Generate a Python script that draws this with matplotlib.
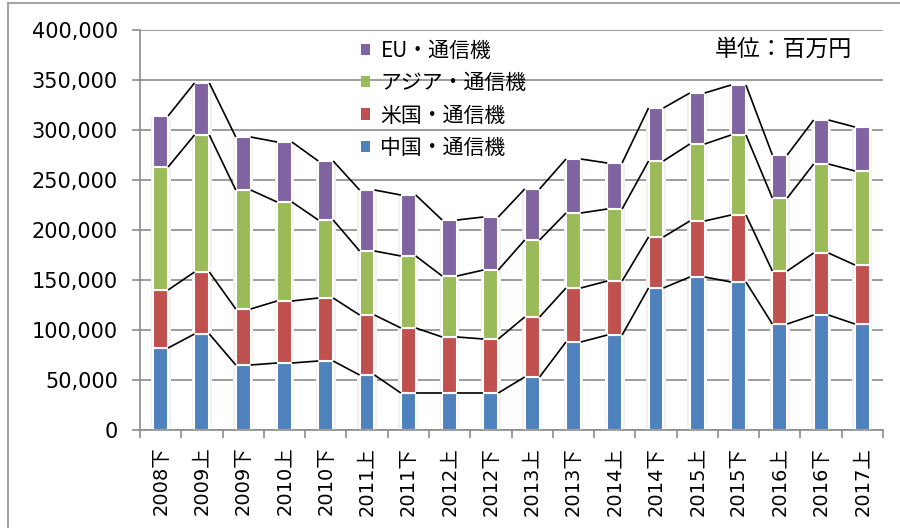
import numpy as np
import matplotlib
matplotlib.use('Agg')
from matplotlib import pyplot as plt
from matplotlib.lines import Line2D
from matplotlib.ticker import FuncFormatter, FixedLocator

plt.rcParams['font.family'] = ['DejaVu Sans', 'Noto Sans CJK JP']

# half-year periods
periods = ['2008下', '2009上', '2009下', '2010上', '2010下', '2011上', '2011下',
           '2012上', '2012下', '2013上', '2013下', '2014上', '2014下', '2015上',
           '2015下', '2016上', '2016下', '2017上']

# values in million yen
china = [82000, 96000, 65000, 67000, 69000, 55000, 37000, 37000, 37000,
         53000, 88000, 95000, 142000, 153000, 148000, 106000, 115000, 106000]
usa = [58000, 62000, 56000, 62000, 63000, 60000, 65000, 56000, 54000,
       60000, 54000, 54000, 51000, 56000, 67000, 53000, 62000, 59000]
asia = [123000, 137000, 119000, 99000, 78000, 64000, 72000, 61000, 69000,
        77000, 75000, 72000, 76000, 77000, 80000, 73000, 89000, 94000]
eu = [51000, 52000, 53000, 60000, 59000, 61000, 61000, 56000, 53000,
      51000, 54000, 46000, 53000, 51000, 50000, 43000, 44000, 44000]

series = [('中国・通信機', china, '#4F81BD'),
          ('米国・通信機', usa, '#C0504D'),
          ('アジア・通信機', asia, '#9BBB59'),
          ('EU・通信機', eu, '#8064A2')]

fig = plt.figure(figsize=(9, 5.28), dpi=100)
ax = fig.add_axes([140 / 900, 1 - 430 / 528, 743 / 900, 400 / 528])

x = np.arange(len(periods))
w = 0.36
grid_c = '#8c8c8c'
cjk = ['Noto Sans CJK JP', 'DejaVu Sans']

# soft shadow behind bars
total = np.sum([s[1] for s in series], axis=0)
ax.bar(x, total, width=w + 0.12, color='#f1f1f1', zorder=1.5, linewidth=0)

bottom = np.zeros(len(periods))
handles = {}
tops = []
for name, vals, col in series:
    vals = np.array(vals, dtype=float)
    b = ax.bar(x, vals, width=w, bottom=bottom, color=col,
               edgecolor='white', linewidth=1.5, zorder=2, label=name)
    handles[name] = b
    bottom = bottom + vals
    tops.append(bottom.copy())

# series lines between stacked tops
for top in tops:
    for i in range(len(periods) - 1):
        ax.plot([x[i] + w / 2, x[i + 1] - w / 2], [top[i], top[i + 1]],
                color='black', linewidth=1.2, zorder=3, solid_capstyle='butt')

ax.set_xlim(-0.5, len(periods) - 0.5)
ax.set_ylim(0, 400000)
ax.set_yticks(np.arange(0, 400001, 50000))
ax.yaxis.set_major_formatter(FuncFormatter(lambda v, p: '{:,.0f}'.format(v)))
ax.yaxis.grid(True, color=grid_c, linewidth=1.2, zorder=0)
ax.set_axisbelow(True)

ax.set_xticks(x)
ax.set_xticklabels(periods, rotation=90, fontsize=14)
ax.xaxis.set_minor_locator(FixedLocator(np.arange(-0.5, len(periods), 1.0)))
ax.tick_params(axis='x', which='major', length=0, pad=12)
ax.tick_params(axis='x', which='minor', length=6, width=1.2, color=grid_c)
ax.tick_params(axis='y', length=6, width=1.2, color=grid_c, pad=10,
               labelsize=15)

for s in ['top', 'right']:
    ax.spines[s].set_visible(False)
for s in ['left', 'bottom']:
    ax.spines[s].set_color(grid_c)
    ax.spines[s].set_linewidth(1.2)

order = ['EU・通信機', 'アジア・通信機', '米国・通信機', '中国・通信機']
leg = ax.legend([handles[n] for n in order], order, loc='upper left',
                bbox_to_anchor=(344 / 900, 1 - 23 / 528),
                bbox_transform=fig.transFigure, frameon=False,
                handlelength=0.45, handleheight=0.45,
                handletextpad=0.5, labelspacing=0.5, borderpad=0.3,
                prop={'family': cjk, 'size': 15})
for h in leg.legend_handles:
    h.set_edgecolor('none')

fig.text(783 / 900, 1 - 49 / 528, '単位：百万円', ha='center', va='center',
         fontsize=16.5, family=cjk)

# outer chart frame (only left and top edges are visible)
fig.add_artist(Line2D([8 / 900, 8 / 900], [0, 1 - 3 / 528],
                      transform=fig.transFigure, color='#a6a6a6', linewidth=1.5))
fig.add_artist(Line2D([8 / 900, 1], [1 - 3 / 528, 1 - 3 / 528],
                      transform=fig.transFigure, color='#a6a6a6', linewidth=1.5))

fig.savefig('out.png', dpi=100)
